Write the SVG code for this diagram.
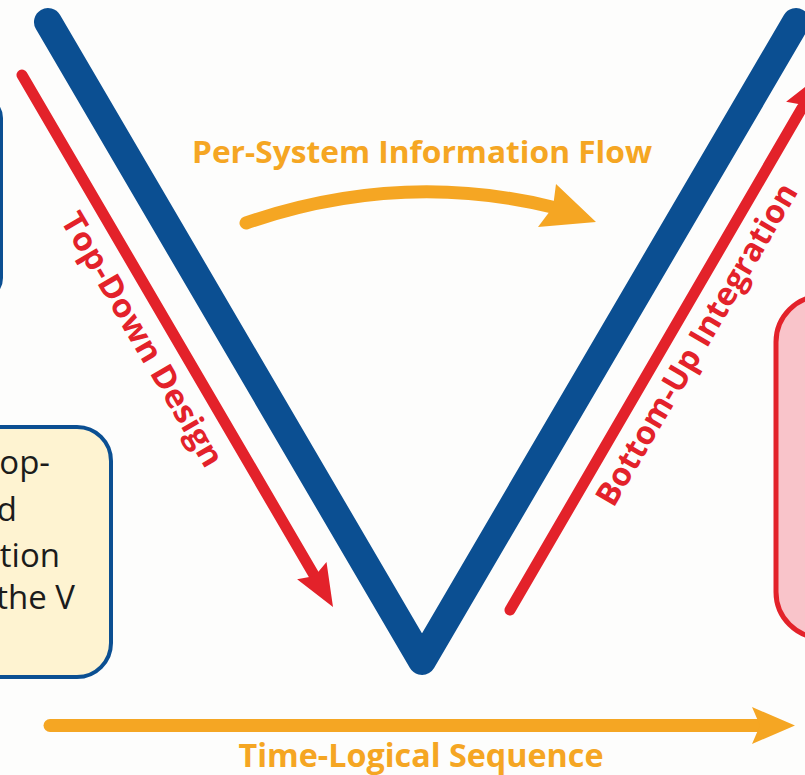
<svg xmlns="http://www.w3.org/2000/svg" width="805" height="775" viewBox="0 0 805 775">
  <style>
    .bold { font-family: "Open Sans", "Noto Sans", "Liberation Sans", sans-serif; font-weight: 700; }
    .body { font-family: "Open Sans", "Noto Sans", "Liberation Sans", sans-serif; font-size: 33px; fill: #1b1b1b; }
    .orange { fill: #F5A623; }
    .red { fill: #E3222A; }
    .vline { fill: none; stroke: #0B4F92; stroke-width: 28; stroke-linecap: round; stroke-linejoin: round; }
    .redline { fill: none; stroke: #E3222A; stroke-width: 11; stroke-linecap: round; }
    .orangeline { fill: none; stroke: #F5A623; stroke-width: 13; stroke-linecap: round; }
  </style>

  <rect x="0" y="0" width="805" height="775" fill="#FDFDFC"/>

  <!-- side panels -->
  <g id="panel-left-top">
    <rect x="-200" y="98" width="201" height="200" rx="20" fill="#FDFDFC" stroke="#0B4F92" stroke-width="4"/>
  </g>
  <g id="panel-left-note">
    <rect x="-100" y="427" width="211" height="250" rx="34" fill="#FEF3D1" stroke="#0B4F92" stroke-width="4"/>
    <text class="body" text-anchor="end" x="50" y="474">op-</text>
    <text class="body" text-anchor="end" x="17" y="521">d</text>
    <text class="body" text-anchor="end" x="60" y="567">tion</text>
    <text class="body" text-anchor="end" x="75" y="609">the V</text>
  </g>
  <g id="panel-right">
    <rect x="776" y="296" width="120" height="342" rx="46" fill="#F9C4CA" stroke="#E3222A" stroke-width="5"/>
  </g>

  <!-- the V -->
  <g id="v-shape">
    <polyline class="vline" points="48,22 422,661 796,22"/>
  </g>

  <g id="connectors">
    <!-- top-down design arrow -->
    <line class="redline" x1="22" y1="75" x2="314" y2="575"/>
    <polygon class="red" points="333,607 326.5,562.1 314.8,575.9 297.1,579.3"/>
    <!-- bottom-up integration arrow -->
    <line class="redline" x1="510" y1="610" x2="802" y2="108"/>
    <polygon class="red" points="822,74 815.5,118.9 803.8,105.1 786.1,101.7"/>
    <!-- information flow arrow -->
    <path class="orangeline" d="M 246 223 Q 400 170 552 207"/>
    <polygon class="orange" points="596,222 556,184 553,207 538,227"/>
    <!-- time axis arrow -->
    <line class="orangeline" x1="50" y1="725.5" x2="762" y2="725.5"/>
    <polygon class="orange" points="795,725.5 752,707 760,725.5 752,744"/>
  </g>

  <!-- labels -->
  <g id="label-flow">
    <text class="bold orange" font-size="31" x="422" y="163" text-anchor="middle" textLength="460" lengthAdjust="spacingAndGlyphs">Per-System Information Flow</text>
  </g>
  <g id="label-top-down">
    <text class="bold red" font-size="32" text-anchor="middle" transform="translate(133,345) rotate(59.7)" textLength="289" lengthAdjust="spacingAndGlyphs">Top-Down Design</text>
  </g>
  <g id="label-bottom-up">
    <text class="bold red" font-size="32" text-anchor="middle" transform="translate(706,350) rotate(-59.7)" textLength="367" lengthAdjust="spacingAndGlyphs">Bottom-Up Integration</text>
  </g>
  <g id="label-time">
    <text class="bold orange" font-size="32" x="421" y="767" text-anchor="middle" textLength="365" lengthAdjust="spacingAndGlyphs">Time-Logical Sequence</text>
  </g>
</svg>
